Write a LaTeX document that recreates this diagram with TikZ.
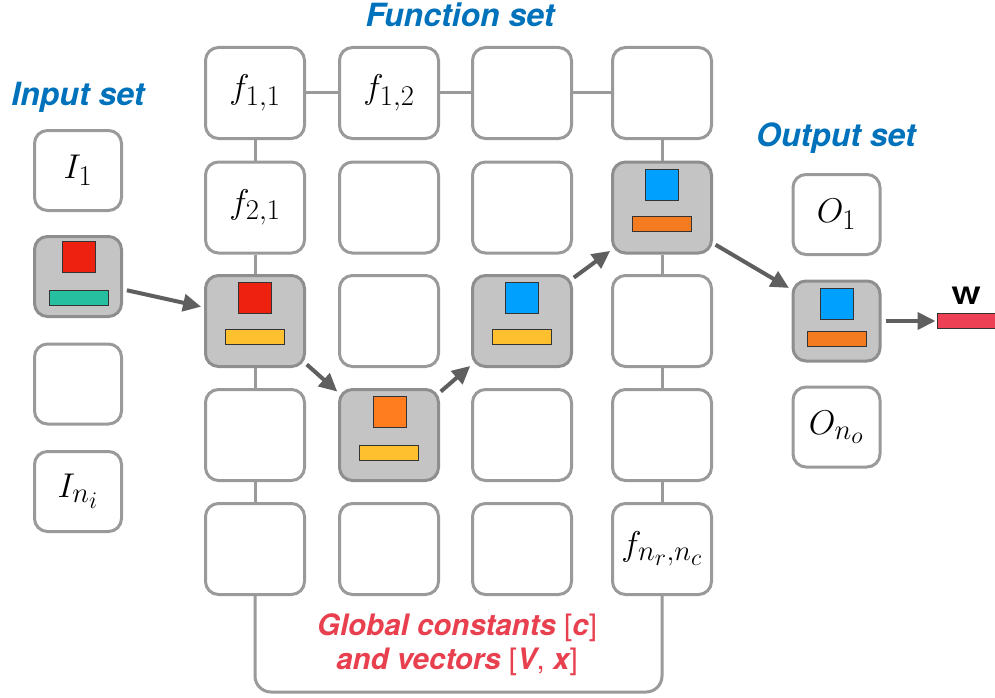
\documentclass[tikz,border=0pt]{standalone}
\usepackage{fontspec}
\setsansfont{TeX Gyre Heros}
\usetikzlibrary{arrows.meta,calc}
\definecolor{boxline}{HTML}{9A9A9A}
\definecolor{grayline}{HTML}{8E8E8E}
\definecolor{grayfill}{HTML}{C4C4C4}
\definecolor{arrowgray}{HTML}{5F5F5F}
\definecolor{titleblue}{HTML}{0072BC}
\definecolor{globred}{HTML}{E8404F}
\definecolor{sqred}{HTML}{EE2010}
\definecolor{barteal}{HTML}{26C0A0}
\definecolor{baryellow}{HTML}{FFC030}
\definecolor{sqorange}{HTML}{FF7D1E}
\definecolor{barorange}{HTML}{F47B20}
\definecolor{sqblue}{HTML}{00A0FF}
\definecolor{wred}{HTML}{EE4055}
\newcommand{\mlab}[1]{\scalebox{1.38}{$#1$}}
\begin{document}
\begin{tikzpicture}[x=1pt,y=-1pt,
  fbox/.style={draw=boxline, line width=3pt, rounded corners=13pt, fill=white,
    minimum width=99pt, minimum height=91pt, inner sep=0pt, font=\fontsize{24.88}{30}\selectfont},
  iobox/.style={fbox, minimum width=87pt, minimum height=80pt},
  active/.style={draw=grayline, fill=grayfill},
  link/.style={draw=boxline, line width=3pt},
  flow/.style={draw=arrowgray, line width=4pt, -{Triangle[length=18pt,width=17pt]}},
  sq/.style={draw=black!80, line width=1pt, minimum width=33pt, minimum height=31pt, inner sep=0pt},
  bar/.style={draw=black!80, line width=1pt, minimum width=59pt, minimum height=15pt, inner sep=0pt},
  title/.style={font=\sffamily\bfseries\itshape\fontsize{32}{38}\selectfont, text=titleblue}
]
\useasboundingbox[fill=white] (0,0) rectangle (995,698);

% titles
\node[title] (tin) at (78,97) {Input set};
\node[title] (tfn) at (460,15) {Function set};
\node[title] (tout) at (836,138.5) {Output set};

% input set
\node[iobox] (in1) at (78,170.5) {\mlab{I_1}};
\node[iobox,active] (in2) at (78,276.5) {};
\node[iobox] (in3) at (78,384) {};
\node[iobox] (in4) at (78,491.5) {\mlab{I_{n_i}}};

% output set
\node[iobox] (out1) at (836.5,214.5) {\mlab{O_1}};
\node[iobox,active] (out2) at (836.5,321) {};
\node[iobox] (out3) at (836.5,427) {\mlab{O_{n_o}}};

% function grid: row 1
\node[fbox] (c11) at (255,93) {\mlab{f_{1,1}}};
\node[fbox] (c12) at (389,93) {\mlab{f_{1,2}}};
\node[fbox] (c13) at (522,93) {};
\node[fbox] (c14) at (662,93) {};
% row 2
\node[fbox] (c21) at (255,207.5) {\mlab{f_{2,1}}};
\node[fbox] (c22) at (389,207.5) {};
\node[fbox] (c23) at (522,207.5) {};
\node[fbox,active] (c24) at (662,207.5) {};
% row 3
\node[fbox,active] (c31) at (255,321) {};
\node[fbox] (c32) at (389,321) {};
\node[fbox,active] (c33) at (522,321) {};
\node[fbox] (c34) at (662,321) {};
% row 4
\node[fbox] (c41) at (255,435) {};
\node[fbox,active] (c42) at (389,435) {};
\node[fbox] (c43) at (522,435) {};
\node[fbox] (c44) at (662,435) {};
% row 5
\node[fbox] (c51) at (255,549) {};
\node[fbox] (c52) at (389,549) {};
\node[fbox] (c53) at (522,549) {};
\node[fbox] (c54) at (662,549) {\mlab{f_{n_r,n_c}}};

% links
\draw[link] (c11) -- (c12);
\draw[link] (c12) -- (c13);
\draw[link] (c13) -- (c14);
\draw[link] (c11) -- (c21);
\draw[link] (c21) -- (c31);
\draw[link] (c31) -- (c41);
\draw[link] (c41) -- (c51);
\draw[link] (c14) -- (c24);
\draw[link] (c24) -- (c34);
\draw[link] (c34) -- (c44);
\draw[link] (c44) -- (c54);
\coordinate (bl) at (255,692);
\coordinate (br) at (662,692);
\draw[link, rounded corners=16pt] (c51.south) -- (bl) -- (br) -- (c54.south);

% contents of active nodes
\node[sq, fill=sqred] (s1) at ($(in2)+(1,-20)$) {};
\node[bar, fill=barteal] (b1) at ($(in2)+(0.5,21)$) {};
\node[sq, fill=sqred] (s2) at ($(c31)+(0,-23)$) {};
\node[bar, fill=baryellow] (b2) at ($(c31)+(0,16)$) {};
\node[sq, fill=sqorange] (s3) at ($(c42)+(0.5,-23.5)$) {};
\node[bar, fill=baryellow] (b3) at ($(c42)+(0,17.5)$) {};
\node[sq, fill=sqblue] (s4) at ($(c33)+(0,-23)$) {};
\node[bar, fill=baryellow] (b4) at ($(c33)+(0,16)$) {};
\node[sq, fill=sqblue] (s5) at ($(c24)+(0,-23)$) {};
\node[bar, fill=barorange] (b5) at ($(c24)+(0,16)$) {};
\node[sq, fill=sqblue] (s6) at ($(out2)+(0,-17)$) {};
\node[bar, fill=barorange] (b6) at ($(out2)+(0,18)$) {};

% W output
\node[draw=black!80, line width=1pt, fill=wred, minimum width=70pt, minimum height=15pt, inner sep=0pt] (wbar) at (972,321) {};
\node[font=\sffamily\bfseries\fontsize{24}{24}\selectfont, inner sep=0pt] (wlab) at (966,296) {\scalebox{1.3}[1]{W}};

% flow arrows
\draw[flow, shorten <=4pt, shorten >=3pt] (in2.-16) -- (c31.165);
\draw[flow, shorten <=1pt, shorten >=1pt] (c31.-40) -- (c42.140);
\draw[flow, shorten <=1pt, shorten >=1pt] (c42.40) -- (c33.221);
\draw[flow, shorten <=1pt, shorten >=1pt] (c33.40) -- (c24.220);
\draw[flow, shorten <=3pt, shorten >=3pt] (c24.-35) -- (out2.145);
\draw[flow, shorten <=4pt, shorten >=1pt] (out2.east) -- (wbar.west);

% global constants
\node[font=\sffamily\bfseries\itshape\fontsize{29.5}{34}\selectfont, text=globred, align=center] (glob) at (457,645)
  {Global constants {\mdseries\upshape[}c{\mdseries\upshape]}\\and vectors {\mdseries\upshape[}V{\mdseries\upshape,} x{\mdseries\upshape]}};
\end{tikzpicture}
\end{document}
